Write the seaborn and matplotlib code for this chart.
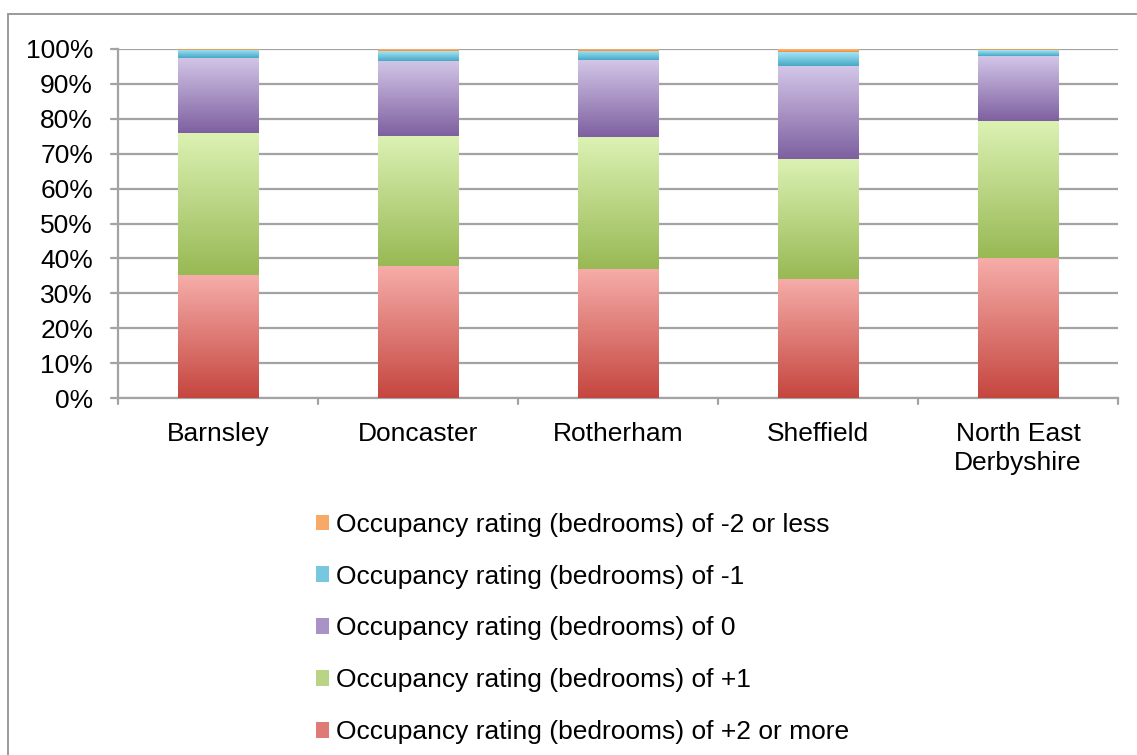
import numpy as np
import pandas as pd
import matplotlib
matplotlib.use("Agg")
import matplotlib.pyplot as plt
from matplotlib.patches import Patch, Rectangle
from matplotlib.colors import LinearSegmentedColormap
import seaborn as sns

categories = ["Barnsley", "Doncaster", "Rotherham", "Sheffield", "North East\nDerbyshire"]
series_names = [
    "Occupancy rating (bedrooms) of +2 or more",
    "Occupancy rating (bedrooms) of +1",
    "Occupancy rating (bedrooms) of 0",
    "Occupancy rating (bedrooms) of -1",
    "Occupancy rating (bedrooms) of -2 or less",
]
plus2 = [35.2, 37.8, 37.0, 34.1, 40.1]
plus1 = [40.7, 37.3, 37.8, 34.4, 39.3]
zero = [21.5, 21.5, 22.0, 26.6, 18.6]
minus1 = [2.3, 2.8, 2.6, 4.0, 1.7]
minus2 = [0.3, 0.6, 0.6, 0.9, 0.3]
yticks = [0, 10, 20, 30, 40, 50, 60, 70, 80, 90, 100]
ytick_labels = [f"{v}%" for v in yticks]

# (top colour, bottom colour) gradients
grads = [
    ("#F6ADA9", "#C5463F"),
    ("#DCF2B4", "#98B954"),
    ("#D3C6E8", "#7E60A0"),
    ("#A6E4F7", "#45A9C5"),
    ("#FBC79A", "#F48B33"),
]
mid_colors = ["#DE7B76", "#BAD486", "#A893C4", "#77C7DE", "#F8A867"]

sns.set_theme(style="white")
plt.rcParams["font.family"] = ["Liberation Sans", "DejaVu Sans"]
plt.rcParams["text.color"] = "black"

FS = 19

fig = plt.figure(figsize=(11.37, 7.55), dpi=100)
ax = fig.add_axes([118 / 1137, 1 - 398 / 755, 1000 / 1137, 349 / 755])

# outer chart frame
fig.add_artist(Rectangle((8 / 1137, -0.1), 1.2, 1 - 14 / 755 + 0.1,
                         transform=fig.transFigure, fill=False,
                         edgecolor="#9a9a9a", linewidth=1.4, zorder=0))

values = [plus2, plus1, zero, minus1, minus2]
df = pd.DataFrame({"cat": categories})
bottom = np.zeros(len(categories))
seg_patches = []
for i, vals in enumerate(values):
    v = np.array(vals) / 100.0
    df["v"] = v
    n_before = len(ax.patches)
    sns.barplot(data=df, x="cat", y="v", color=mid_colors[i], width=0.405,
                bottom=bottom, linewidth=0, ax=ax, zorder=3, saturation=1)
    seg_patches.append((i, ax.patches[n_before:]))
    bottom = bottom + v

# gradient fills clipped to each bar
for i, patches in seg_patches:
    cmap = LinearSegmentedColormap.from_list("g", [grads[i][1], grads[i][0]])
    grad = np.linspace(0, 1, 256).reshape(-1, 1)
    for p in patches:
        x0, y0 = p.get_x(), p.get_y()
        w, h = p.get_width(), p.get_height()
        im = ax.imshow(grad, cmap=cmap, origin="lower", aspect="auto",
                       extent=[x0, x0 + w, y0, y0 + h], zorder=4,
                       interpolation="bilinear")
        im.set_clip_path(p)

ax.set_xlim(-0.5, len(categories) - 0.5)
ax.set_ylim(0, 1.0)
ax.set_yticks(np.array(yticks) / 100.0)
ax.set_yticklabels(ytick_labels, fontsize=FS, color="black")
ax.set_xticks(range(len(categories)))
ax.set_xticklabels(categories, fontsize=FS, color="black", linespacing=1.3)
ax.set_xlabel("")
ax.set_ylabel("")
ax.tick_params(axis="x", length=0, pad=17)
ax.tick_params(axis="y", length=0, pad=18)

ax.grid(axis="y", color="#a3a3a3", linewidth=1.6, zorder=1)
ax.set_axisbelow(True)
for s in ["top", "right"]:
    ax.spines[s].set_visible(False)
for s in ["left", "bottom"]:
    ax.spines[s].set_color("#a3a3a3")
    ax.spines[s].set_linewidth(1.6)

# tick marks: y ticks outward on left, x ticks at category boundaries
for yv in np.array(yticks) / 100.0:
    ax.plot([-0.5 - 0.035, -0.5], [yv, yv], color="#a3a3a3", lw=1.6,
            clip_on=False, zorder=2)
for xb in np.arange(-0.5, len(categories), 1.0):
    ax.plot([xb, xb], [0, -0.018], color="#a3a3a3", lw=1.6,
            clip_on=False, zorder=2)

handles = [Patch(facecolor=mid_colors[i], edgecolor="none") for i in range(5)][::-1]
labels = series_names[::-1]
fig.legend(handles, labels, loc="upper left",
           bbox_to_anchor=(305 / 1137, 1 - 502 / 755),
           frameon=False, fontsize=FS, handlelength=0.52, handleheight=0.52,
           handletextpad=0.25, labelspacing=1.06, borderaxespad=0,
           labelcolor="black")

fig.savefig("out.png", dpi=100, facecolor="white")
